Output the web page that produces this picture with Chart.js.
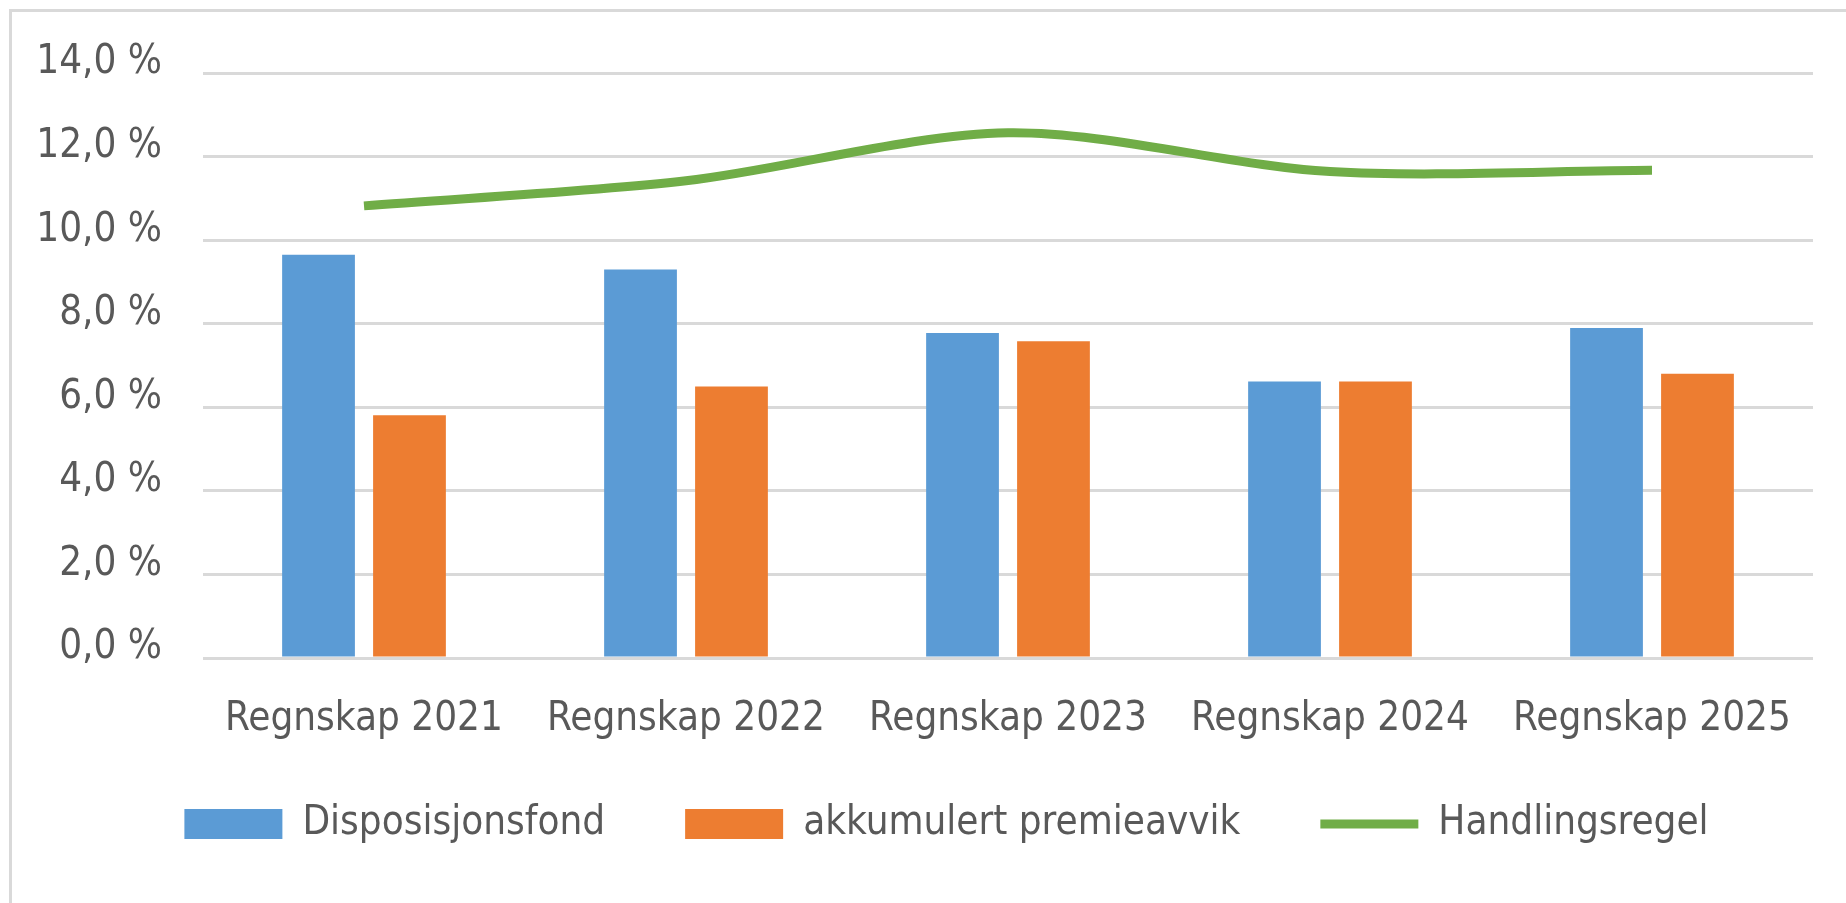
<!DOCTYPE html>
<html>
<head>
<meta charset="utf-8">
<script src="https://cdn.jsdelivr.net/npm/chart.js@4.4.1/dist/chart.umd.min.js"></script>
<style>
  html, body { margin: 0; padding: 0; background: #fff; overflow: hidden; }
  #frame { position: absolute; left: 9px; top: 9px; width: 2000px; height: 1000px;
    border-left: 3px solid #d9d9d9; border-top: 3px solid #d9d9d9; }
  #wrap { position: absolute; left: 0; top: 0; width: 1846px; height: 903px; }
</style>
</head>
<body>
<div id="frame"></div>
<div id="wrap"><canvas id="myChart"></canvas></div>
<script>
// data
const categories = ["Regnskap 2021", "Regnskap 2022", "Regnskap 2023", "Regnskap 2024", "Regnskap 2025"];
const disposisjonsfond = [9.65, 9.3, 7.78, 6.62, 7.9];
const premieavvik = [5.81, 6.5, 7.58, 6.62, 6.8];
const handlingsregel = [10.82, 11.42, 12.57, 11.64, 11.67];
const yTicks = [0, 2, 4, 6, 8, 10, 12, 14];

const FONT = "'DejaVu Sans Condensed', 'Open Sans', sans-serif";
const TEXT = "#595959";
const GRID = "#d9d9d9";

// move the legend row to where the reference has it
const legendShift = {
  id: "legendShift",
  afterLayout(chart) {
    const lg = chart.legend;
    lg.left += 40;
    lg.right += 40;
    lg.top -= 34;
    lg.bottom -= 34;
  },
};

const ctx = document.getElementById("myChart").getContext("2d");

new Chart(ctx, {
  type: "bar",
  data: {
    labels: categories,
    datasets: [
      {
        label: "Disposisjonsfond",
        data: disposisjonsfond,
        backgroundColor: "#5b9bd5",
        borderWidth: 0,
      },
      {
        label: "akkumulert premieavvik",
        data: premieavvik,
        backgroundColor: "#ed7d31",
        borderWidth: 0,
      },
      {
        type: "line",
        label: "Handlingsregel",
        data: handlingsregel,
        borderColor: "#70ad47",
        backgroundColor: "#70ad47",
        borderWidth: 9,
        pointRadius: 0,
        tension: 0.3,
      },
    ],
  },
  plugins: [legendShift],
  options: {
    responsive: true,
    maintainAspectRatio: false,
    animation: false,
    categoryPercentage: 0.565,
    barPercentage: 0.8,
    layout: {
      padding: { left: 0, right: 33, top: 73, bottom: 15 },
    },
    plugins: {
      tooltip: { enabled: false },
      legend: {
        position: "bottom",
        labels: {
          color: TEXT,
          font: { family: FONT, size: 40 },
          usePointStyle: true,
          pointStyleWidth: 98,
          boxHeight: 30,
          padding: 80,
          generateLabels: (chart) => {
            const items = Chart.defaults.plugins.legend.labels.generateLabels(chart);
            items.forEach((item, i) => {
              if (i === 2) {
                item.pointStyle = "line";
                item.lineWidth = 9;
                item.strokeStyle = "#70ad47";
              } else {
                item.pointStyle = "rect";
                item.lineWidth = 0;
              }
            });
            return items;
          },
        },
      },
    },
    scales: {
      x: {
        grid: { display: false, drawTicks: false },
        border: { display: false },
        ticks: {
          color: TEXT,
          font: { family: FONT, size: 40 },
          padding: 38,
          maxRotation: 0,
          autoSkip: false,
        },
        afterFit: (scale) => {
          scale.height = 100;
        },
      },
      y: {
        min: 0,
        max: 14,
        afterBuildTicks: (scale) => {
          scale.ticks = yTicks.map((v) => ({ value: v }));
        },
        grid: { color: GRID, lineWidth: 3, drawTicks: false },
        border: { display: false },
        ticks: {
          color: TEXT,
          font: { family: FONT, size: 40 },
          padding: 41,
          labelOffset: -10,
          callback: (v) => v.toFixed(1).replace(".", ",") + " %",
        },
        afterFit: (scale) => {
          scale.width = 203;
        },
      },
    },
  },
});
</script>
</body>
</html>
